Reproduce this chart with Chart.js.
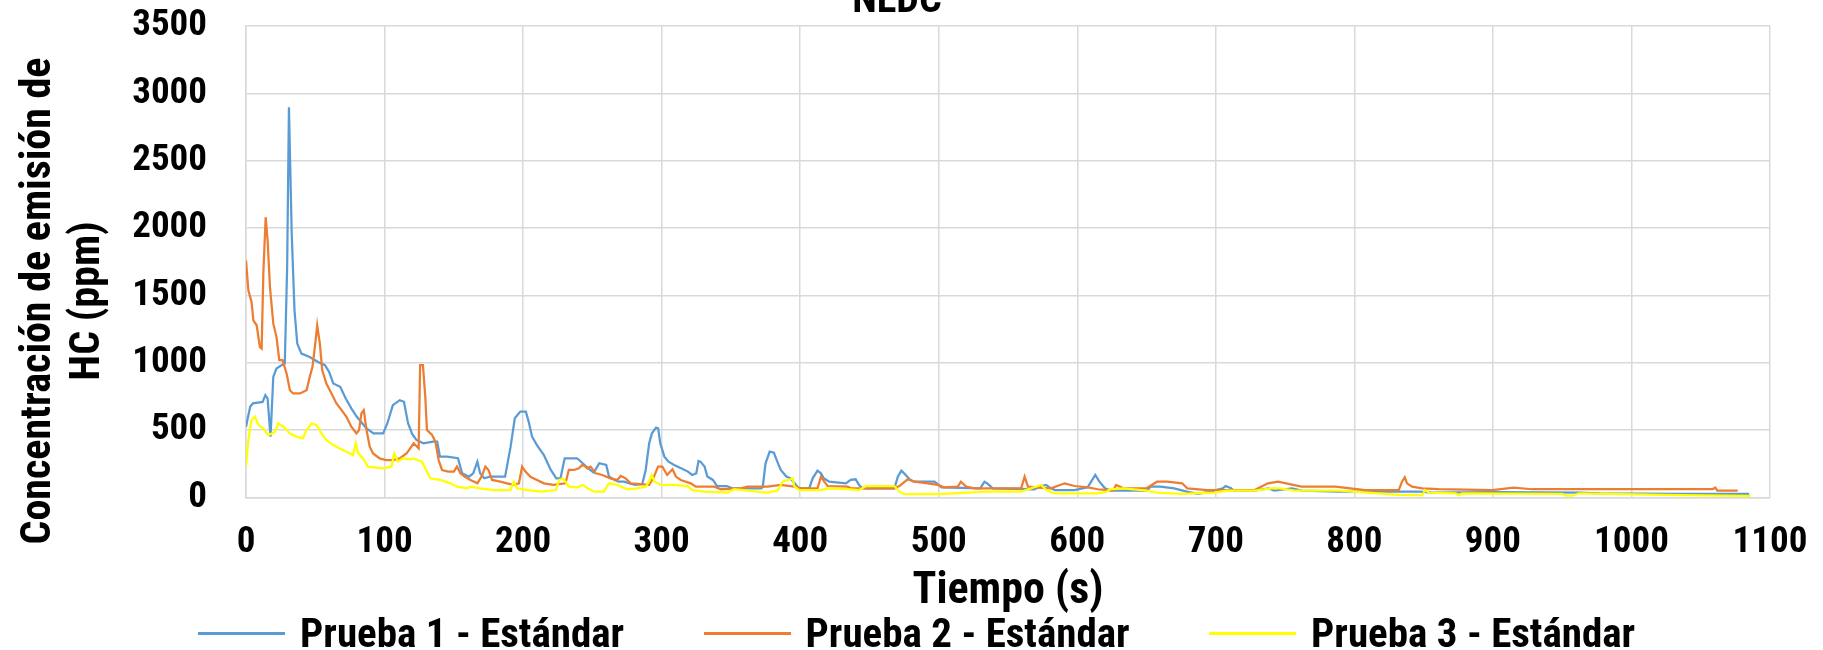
<!DOCTYPE html>
<html>
<head>
<meta charset="utf-8">
<script src="https://cdn.jsdelivr.net/npm/chart.js@4.4.1/dist/chart.umd.min.js"></script>
<style>
  html, body { margin: 0; padding: 0; background: #fff; }
  #wrap { position: relative; width: 1823px; height: 650px; overflow: hidden; }
  #legend {
    position: absolute; left: 198px; top: 609px; height: 48px;
    display: flex; align-items: center;
    font: bold 41px 'Roboto Condensed', sans-serif; line-height: 48px; color: #000;
  }
  .item { display: flex; align-items: center; width: 505.5px; white-space: nowrap; }
  .swatch { width: 87px; height: 3px; margin-right: 15px; flex: none; }
</style>
</head>
<body>
<div id="wrap">
  <canvas id="hcChart" width="1823" height="650"></canvas>
  <div id="legend"></div>
</div>
<script>
// ---------- DATA ----------
const seriesNames = ['Prueba 1 - Estándar', 'Prueba 2 - Estándar', 'Prueba 3 - Estándar'];
const xTicks = [0, 100, 200, 300, 400, 500, 600, 700, 800, 900, 1000, 1100];
const yTicks = [0, 500, 1000, 1500, 2000, 2500, 3000, 3500];
const chartTitle = 'NEDC';
const xTitle = 'Tiempo (s)';
const yTitleLines = ['Concentración de emisión de', 'HC (ppm)'];

// Prueba 1 (blue)
const t1 = [0, 3, 5, 12, 14, 15.6, 17.7, 19.7, 22, 25.7, 28, 29.7, 31, 33, 35, 37, 40, 46, 52, 57,
  60, 63, 68, 72, 76, 80, 83, 87, 92, 99, 102, 106, 111, 114, 117, 120, 123, 128, 135, 138,
  140, 145, 153, 156, 161, 164, 167, 169, 172, 176, 187, 191, 194, 198, 202, 204, 206.5, 210, 215, 220,
  224, 227, 230, 239, 243, 247, 251, 255, 260, 262, 266, 269, 273, 278, 281, 286, 288.5, 291, 293, 296,
  297.5, 299, 302, 305, 309, 314, 319, 322, 325, 326.6, 328, 331, 333, 337, 340, 347, 351, 372, 373, 375,
  378, 381, 384, 386, 390, 393, 397, 399, 406.5, 409, 412.5, 415, 417, 421, 433, 436.5, 440, 442.5, 445, 468,
  470.5, 473, 475, 479, 482, 497, 502, 530, 533, 535, 539, 569, 574, 577.5, 581, 584, 598, 607.5, 610, 613,
  616, 620, 624, 650, 653, 660, 670, 679, 687, 696, 705, 707, 711, 713, 728, 738, 742, 755, 762, 789,
  847, 856, 904, 962, 977, 1035, 1085];
const p1 = [526, 674, 700, 710, 760, 735, 452, 896, 958, 983, 995, 1711, 2896, 1958, 1390, 1143, 1069, 1044, 1007, 983,
  933, 847, 822, 736, 662, 600, 563, 513, 476, 476, 550, 686, 723, 711, 550, 470, 428, 403, 415, 415,
  304, 304, 292, 180, 155, 180, 267, 180, 143, 155, 155, 378, 589, 638, 638, 564, 452, 390, 316, 205,
  143, 143, 292, 292, 255, 217, 185, 255, 242, 156, 131, 118, 118, 101, 94, 101, 205, 403, 477, 519,
  514, 403, 304, 267, 242, 217, 193, 168, 180, 272, 267, 230, 156, 131, 86, 86, 69, 69, 81, 254,
  341, 333, 254, 205, 156, 143, 94, 69, 69, 143, 200, 180, 143, 118, 106, 131, 136, 94, 69, 69,
  156, 200, 180, 136, 118, 118, 76, 69, 118, 106, 69, 62, 86, 94, 69, 56, 56, 76, 118, 168,
  118, 69, 52, 52, 81, 81, 69, 44, 27, 44, 69, 86, 69, 52, 52, 69, 52, 69, 52, 44,
  44, 37, 40, 37, 32, 27, 27];

// Prueba 2 (orange)
const t2 = [0, 1.7, 4, 5.3, 7.7, 10, 11.3, 12.5, 14.2, 15.6, 17.3, 19.7, 22, 24, 26.4, 29.3, 31.7, 34, 39, 43.7,
  46, 48, 50, 51.4, 53.3, 55, 58, 61.7, 65.3, 69, 72.5, 76, 79.7, 81.6, 83.3, 85, 87, 89.3, 91.7, 96.5,
  101, 106, 111, 116, 121, 124.6, 125.7, 127.7, 129.4, 130.6, 134.3, 136.7, 139, 141.5, 146, 150, 152.3, 154.7, 158, 162,
  167, 170, 172.8, 175, 177.6, 183.6, 188.4, 193, 197, 199.3, 201.7, 205.3, 210, 215, 222, 230.6, 233, 236.6, 240.3, 242.7,
  245, 246.3, 248.7, 252.4, 257.2, 263, 268, 270.5, 274, 277.7, 291, 294.5, 297.4, 300.5, 304, 307.8, 310.3, 313.8, 321, 324.7,
  338, 342.8, 357.3, 362, 376.5, 386, 395.8, 400.5, 412.5, 415, 417.4, 419.8, 434.3, 436.6, 468, 471.6, 477.6, 482.4, 492, 499.3,
  504, 513.7, 516, 519.8, 525.8, 559.5, 562, 564.4, 569, 581, 590.9, 598, 607.6, 614.8, 626, 628, 633.3, 650, 657.5, 664.8,
  675.7, 679.4, 694, 728, 737.6, 744.9, 755.8, 761.9, 786.2, 808, 832, 834.4, 836.4, 838, 841.7, 849, 861, 899.5, 915, 928.4,
  1058.6, 1060.5, 1062, 1076.7];
const p2 = [1760, 1538, 1452, 1316, 1279, 1118, 1106, 1662, 2081, 1909, 1563, 1291, 1193, 1020, 1020, 921, 797, 773, 773, 797,
  896, 970, 1143, 1279, 1143, 946, 847, 773, 699, 649, 600, 526, 476, 501, 625, 649, 501, 378, 328, 291,
  279, 279, 291, 329, 403, 366, 984, 984, 749, 502, 465, 415, 279, 205, 193, 193, 230, 180, 155, 131,
  106, 155, 230, 205, 131, 118, 106, 94, 106, 230, 193, 155, 131, 106, 94, 106, 205, 205, 217, 242,
  230, 217, 230, 180, 168, 143, 131, 161, 143, 106, 94, 156, 230, 230, 168, 210, 156, 131, 106, 81,
  81, 62, 69, 81, 81, 94, 81, 69, 69, 156, 118, 86, 81, 69, 69, 86, 136, 118, 106, 94,
  76, 81, 118, 81, 69, 69, 156, 81, 76, 69, 106, 86, 76, 62, 52, 94, 69, 69, 118, 118,
  106, 69, 56, 56, 106, 118, 94, 81, 81, 56, 56, 118, 151, 106, 81, 69, 62, 56, 74, 62,
  62, 74, 52, 52];

// Prueba 3 (yellow)
const t3 = [0, 1.7, 4, 6.5, 9, 12.5, 16, 18.5, 21, 23.3, 27, 31.7, 36.5, 41, 43.7, 47.3, 51, 54.5, 58, 63,
  67.7, 72.5, 77.3, 79.2, 81, 84.5, 88, 99, 105, 107, 109.7, 113, 119, 121, 123.4, 127, 130.6, 133, 140.2, 147.5,
  152.3, 159.5, 162, 169, 178.8, 190.8, 193.3, 195.7, 203, 213, 223.7, 226, 228.5, 230.6, 233, 239.4, 243, 246.6, 251.1, 258.3,
  262, 268, 275.2, 282.4, 288.5, 290.9, 292.8, 294.9, 299.3, 309, 318.6, 322.2, 330.8, 347.5, 352.3, 362, 376.5, 383.7, 387.4, 391,
  393, 394.6, 395.7, 399.3, 415, 419.8, 434.3, 442.7, 447.5, 468, 471.6, 475.2, 499.3, 511.3, 533, 559.5, 574, 577.6, 583.6, 614.8,
  621.2, 623.6, 633.3, 650, 657.5, 674.5, 698.8, 708.5, 728, 740, 746, 757, 788.6, 822.6, 832, 849, 851, 853.7, 873, 875.4,
  877.8, 950, 952.5, 957.4, 962, 1034.5, 1086];
const p3 = [230, 427, 575, 600, 538, 513, 464, 476, 489, 550, 526, 476, 452, 439, 501, 550, 538, 476, 427, 390,
  365, 341, 316, 402, 328, 291, 230, 217, 230, 328, 267, 291, 284, 291, 279, 267, 193, 143, 131, 106,
  81, 69, 81, 69, 56, 56, 118, 69, 56, 44, 56, 131, 143, 118, 81, 76, 94, 69, 44, 44,
  106, 94, 62, 69, 81, 118, 168, 118, 94, 94, 86, 56, 44, 37, 62, 52, 37, 52, 118, 131,
  136, 143, 86, 56, 56, 69, 62, 56, 86, 86, 44, 25, 25, 32, 44, 44, 94, 56, 32, 32,
  44, 61, 69, 52, 37, 27, 37, 52, 52, 69, 69, 52, 52, 27, 20, 17, 56, 37, 32, 17,
  32, 27, 14, 14, 32, 19, 12];

const seriesColors = ['#5B9BD5', '#ED7D31', '#FFFF00'];

// ---------- CHART ----------
const FONT = "'Roboto Condensed', 'Roboto', sans-serif";
const toPoints = (t, v) => t.map((x, i) => ({ x: x, y: v[i] }));
const plain = (v) => String(v);

// chart title cut at the top edge and the two-line y title, both placed like the picture
const extraTitles = {
  id: 'extraTitles',
  afterDraw(chart) {
    const c = chart.ctx;
    c.save();
    c.fillStyle = '#000';
    c.textAlign = 'center';
    c.textBaseline = 'alphabetic';
    c.font = 'bold 40px ' + FONT;
    c.fillText(chartTitle, 897, 12);
    c.font = 'bold 42px ' + FONT;
    const baseX = [50, 99];
    yTitleLines.forEach((line, i) => {
      c.save();
      c.translate(baseX[i], 301);
      c.rotate(-Math.PI / 2);
      c.fillText(line, 0, 0);
      c.restore();
    });
    c.restore();
  }
};

const ctxHC = document.getElementById('hcChart');

// tick marks are kept but invisible: their length sets the label gap
// without adding the extra layout padding that ticks.padding brings
const hidden = 'rgba(0,0,0,0)';

const hcChart = new Chart(ctxHC, {
  type: 'line',
  data: {
    datasets: [
      {
        label: seriesNames[0],
        data: toPoints(t1, p1),
        borderColor: seriesColors[0],
        backgroundColor: seriesColors[0],
        borderWidth: 2.25,
        pointRadius: 0,
        tension: 0,
        order: 3
      },
      {
        label: seriesNames[1],
        data: toPoints(t2, p2),
        borderColor: seriesColors[1],
        backgroundColor: seriesColors[1],
        borderWidth: 2.25,
        pointRadius: 0,
        tension: 0,
        order: 2
      },
      {
        label: seriesNames[2],
        data: toPoints(t3, p3),
        borderColor: seriesColors[2],
        backgroundColor: seriesColors[2],
        borderWidth: 2.25,
        pointRadius: 0,
        tension: 0,
        order: 1
      }
    ]
  },
  options: {
    responsive: false,
    animation: false,
    layout: { padding: { left: 0, right: 53, top: 26, bottom: 32 } },
    plugins: {
      legend: { display: false },
      tooltip: { enabled: false },
      title: { display: false }
    },
    scales: {
      x: {
        type: 'linear',
        min: 0,
        max: 1100,
        afterBuildTicks: (s) => { s.ticks = xTicks.map(v => ({ value: v })); },
        afterFit: (s) => { s.height = 120.4; },
        ticks: { color: '#000', padding: 0, maxRotation: 0, font: { family: FONT, size: 37, weight: 'bold' }, callback: plain },
        grid: { color: '#d9d9d9', lineWidth: 1.5, drawTicks: true, tickLength: 23, tickColor: hidden },
        border: { color: '#d9d9d9', width: 1.5 },
        title: {
          display: true,
          text: xTitle,
          color: '#000',
          font: { family: FONT, size: 44, weight: 'bold' },
          padding: { top: 0, bottom: 0 }
        }
      },
      y: {
        min: 0,
        max: 3500,
        afterBuildTicks: (s) => { s.ticks = yTicks.map(v => ({ value: v })); },
        afterFit: (s) => { s.width = 246; },
        ticks: { color: '#000', padding: 0, font: { family: FONT, size: 37, weight: 'bold' }, callback: plain },
        grid: { color: '#d9d9d9', lineWidth: 1.5, drawTicks: true, tickLength: 39, tickColor: hidden },
        border: { color: '#d9d9d9', width: 1.5 }
      }
    }
  },
  plugins: [extraTitles]
});

// legend drawn as html so the item spacing can follow the picture
const legendBox = document.getElementById('legend');
hcChart.data.datasets.forEach((ds) => {
  const item = document.createElement('div');
  item.className = 'item';
  const sw = document.createElement('span');
  sw.className = 'swatch';
  sw.style.background = ds.borderColor;
  const txt = document.createElement('span');
  txt.textContent = ds.label;
  item.appendChild(sw);
  item.appendChild(txt);
  legendBox.appendChild(item);
});
</script>
</body>
</html>
